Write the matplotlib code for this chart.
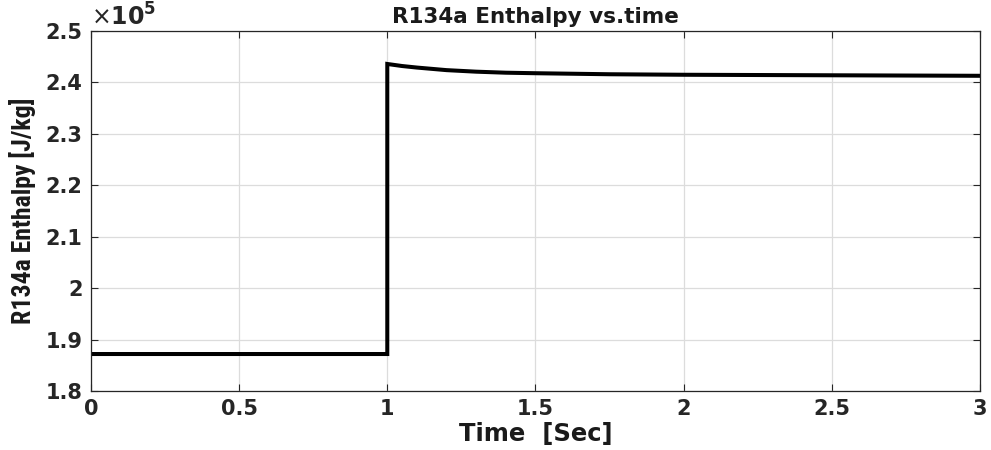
import numpy as np
import matplotlib
matplotlib.use('Agg')
import matplotlib.pyplot as plt
from matplotlib.ticker import FuncFormatter

# donnees
t_avant = [0.0, 1.0]
h_avant = [1.872e5, 1.872e5]
t_apres = [1.0, 1.0, 1.05, 1.1, 1.2, 1.3, 1.4, 1.5, 1.75, 2.0, 2.5, 3.0]
h_apres = [1.872e5, 2.436e5, 2.432e5, 2.429e5, 2.424e5, 2.421e5, 2.419e5,
           2.418e5, 2.416e5, 2.415e5, 2.414e5, 2.413e5]
x_ticks = [0, 0.5, 1, 1.5, 2, 2.5, 3]
y_ticks = [1.8e5, 1.9e5, 2.0e5, 2.1e5, 2.2e5, 2.3e5, 2.4e5, 2.5e5]

fig = plt.figure(figsize=(9.91, 4.5), dpi=100)
ax = fig.add_axes([0.0918, 0.131, 0.897, 0.80])

t = t_avant + t_apres[1:]
h = h_avant + h_apres[1:]
ax.plot(t, h, color='black', lw=2.9, solid_joinstyle='miter')

ax.set_xlim(0, 3)
ax.set_ylim(1.8e5, 2.5e5)
ax.set_xticks(x_ticks)
ax.set_yticks(y_ticks)
ax.xaxis.set_major_formatter(FuncFormatter(lambda v, p: '%g' % v))
ax.yaxis.set_major_formatter(FuncFormatter(lambda v, p: '%g' % round(v / 1e5, 2)))
ax.grid(True, color='#dcdcdc', lw=0.9)
ax.tick_params(direction='in', top=True, right=True, length=5, width=0.8,
               labelsize=15, colors='#262626', pad=6)
for lab in ax.get_xticklabels() + ax.get_yticklabels():
    lab.set_fontweight('bold')
for s in ax.spines.values():
    s.set_color('#262626')
    s.set_linewidth(0.9)

ax.text(0.0, 1.0, r'$\times\mathbf{10^5}$', transform=ax.transAxes, fontsize=17,
        ha='left', va='bottom', color='#262626')
ax.set_title('R134a Enthalpy vs.time', fontsize=15.5, fontweight='bold', pad=6,
             color='#1a1a1a')
ax.set_xlabel('Time  [Sec]', fontsize=17.5, fontweight='bold', labelpad=2,
              color='#1a1a1a')
ax.set_ylabel('R134a Enthalpy [J/kg]', fontsize=18.5, fontweight='bold',
              family=['Roboto Condensed', 'DejaVu Sans'], labelpad=7,
              color='#1a1a1a')

fig.savefig('out.png', dpi=100)
